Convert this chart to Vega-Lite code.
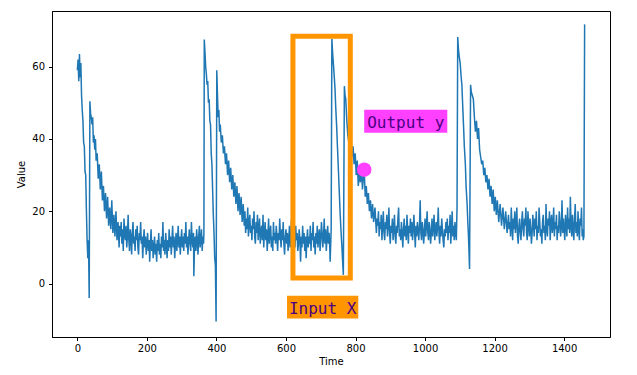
{
  "$schema": "https://vega.github.io/schema/vega-lite/v6.json",
  "width": 558,
  "height": 326,
  "autosize": {"type": "none"},
  "padding": {"left": 52, "top": 11, "right": 27, "bottom": 38},
  "config": {
    "view": {"stroke": "#000000", "strokeWidth": 1},
    "font": "DejaVu Sans",
    "axis": {
      "grid": false,
      "domainColor": "#000000",
      "tickColor": "#000000",
      "tickSize": 3.5,
      "labelFontSize": 10,
      "labelColor": "#000000",
      "titleFontSize": 10,
      "titleFontWeight": "normal",
      "titleColor": "#000000",
      "labelFont": "DejaVu Sans",
      "titleFont": "DejaVu Sans"
    }
  },
  "datasets": {
    "series": [
      {"t":0,"v":59},{"t":2,"v":62},{"t":4,"v":56},{"t":6,"v":63.5},{"t":8,"v":57},{"t":10,"v":61},{"t":12,"v":52},{"t":14,"v":48},{"t":16,"v":45},{"t":18,"v":39},{"t":20,"v":38},{"t":22,"v":31},{"t":24,"v":30},{"t":26,"v":20},{"t":28,"v":12},{"t":30,"v":7},{"t":32,"v":12},{"t":34,"v":-4},{"t":36,"v":50.4},
      {"t":38,"v":47},{"t":40,"v":46},{"t":42,"v":44},{"t":44,"v":46},{"t":46,"v":39},{"t":48,"v":41},{"t":50,"v":37},{"t":52,"v":40},{"t":54,"v":34},{"t":57,"v":36},{"t":60,"v":29},{"t":63,"v":33},{"t":66,"v":26},{"t":69,"v":31},{"t":72,"v":23},{"t":75,"v":27},{"t":78,"v":20},{"t":81,"v":25},{"t":84,"v":18},{"t":87,"v":24},{"t":90,"v":16},{"t":93,"v":21},{"t":96,"v":15},{"t":99,"v":23},{"t":102,"v":14},{"t":105,"v":19},{"t":108,"v":13},{"t":111,"v":20},{"t":114,"v":12},{"t":117,"v":17},
      {"t":120,"v":10},{"t":122,"v":16},{"t":124,"v":13},{"t":126,"v":17},{"t":128,"v":11},{"t":130,"v":15},{"t":132,"v":9},{"t":134,"v":18},{"t":136,"v":14},{"t":138,"v":12},{"t":140,"v":16},{"t":142,"v":10},{"t":144,"v":13},{"t":146,"v":19},{"t":148,"v":12},{"t":150,"v":9},{"t":152,"v":15},{"t":154,"v":13},{"t":156,"v":8},{"t":158,"v":14},{"t":160,"v":17},{"t":162,"v":11},{"t":164,"v":13},{"t":166,"v":9},{"t":168,"v":15},{"t":170,"v":12},{"t":172,"v":16},{"t":174,"v":10},{"t":176,"v":8},{"t":178,"v":14},{"t":180,"v":12},{"t":182,"v":17},{"t":184,"v":11},{"t":186,"v":13},{"t":188,"v":7},{"t":190,"v":12},{"t":192,"v":15},{"t":194,"v":10},{"t":196,"v":13},{"t":198,"v":8},{"t":200,"v":11},{"t":202,"v":14},{"t":204,"v":9},{"t":206,"v":12},{"t":208,"v":6},{"t":210,"v":11},{"t":212,"v":15},{"t":214,"v":9},{"t":216,"v":12},{"t":218,"v":7},{"t":220,"v":10},{"t":222,"v":13},{"t":224,"v":8},{"t":226,"v":11},{"t":228,"v":6},{"t":230,"v":12},{"t":232,"v":9},{"t":234,"v":14},{"t":236,"v":8},{"t":238,"v":11},{"t":240,"v":7},{"t":242,"v":13},{"t":244,"v":10},{"t":246,"v":17},{"t":248,"v":9},{"t":250,"v":12},{"t":252,"v":8},{"t":254,"v":14},{"t":256,"v":11},{"t":258,"v":7},{"t":260,"v":12},{"t":262,"v":9},{"t":264,"v":15},{"t":266,"v":10},{"t":268,"v":13},{"t":270,"v":8},{"t":272,"v":12},{"t":274,"v":16},{"t":276,"v":10},{"t":278,"v":13},{"t":280,"v":7},{"t":282,"v":11},{"t":284,"v":14},{"t":286,"v":9},{"t":288,"v":12},{"t":290,"v":16},{"t":292,"v":10},{"t":294,"v":13},{"t":296,"v":8},{"t":298,"v":12},{"t":300,"v":15},{"t":302,"v":10},{"t":304,"v":13},{"t":306,"v":9},{"t":308,"v":14},{"t":310,"v":11},{"t":312,"v":17},{"t":314,"v":10},{"t":316,"v":13},{"t":318,"v":8},{"t":320,"v":12},{"t":322,"v":15},{"t":324,"v":11},{"t":326,"v":9},{"t":328,"v":17},{"t":330,"v":12},{"t":332,"v":10},{"t":334,"v":14},{"t":335,"v":2},{"t":337,"v":11},{"t":339,"v":13},{"t":341,"v":9},{"t":343,"v":15},{"t":345,"v":12},{"t":347,"v":8},{"t":349,"v":13},{"t":351,"v":16},{"t":353,"v":10},{"t":355,"v":12},{"t":357,"v":15},{"t":359,"v":9},{"t":361,"v":13},{"t":363,"v":11},{"t":364,"v":14},
      {"t":365,"v":67.5},{"t":367,"v":64},{"t":369,"v":60},{"t":371,"v":58},{"t":373,"v":55},{"t":375,"v":56},{"t":377,"v":50},{"t":379,"v":51},{"t":381,"v":45},{"t":383,"v":44},{"t":385,"v":36},{"t":387,"v":33},{"t":389,"v":26},{"t":391,"v":19},{"t":393,"v":14},{"t":395,"v":7},{"t":397,"v":5},{"t":399,"v":-10.5},{"t":401,"v":59},{"t":403,"v":52},{"t":405,"v":46},{"t":407,"v":48},{"t":409,"v":42},{"t":411,"v":44},{"t":414,"v":39},{"t":417,"v":41},{"t":420,"v":36},{"t":423,"v":38},{"t":426,"v":33},{"t":429,"v":36},{"t":432,"v":30},{"t":435,"v":34},{"t":438,"v":28},{"t":441,"v":32},{"t":444,"v":26},{"t":447,"v":30},{"t":450,"v":24},{"t":453,"v":28},{"t":456,"v":22},{"t":459,"v":27},{"t":462,"v":20},{"t":465,"v":25},{"t":468,"v":19},{"t":471,"v":24},{"t":474,"v":17},{"t":477,"v":22},
      {"t":480,"v":16},{"t":482,"v":20},{"t":484,"v":14},{"t":486,"v":18},{"t":488,"v":15},{"t":490,"v":21},{"t":492,"v":13},{"t":494,"v":17},{"t":496,"v":19},{"t":498,"v":14},{"t":500,"v":16},{"t":502,"v":12},{"t":504,"v":18},{"t":506,"v":15},{"t":508,"v":20},{"t":510,"v":13},{"t":512,"v":11},{"t":514,"v":17},{"t":516,"v":14},{"t":518,"v":19},{"t":520,"v":12},{"t":522,"v":15},{"t":524,"v":18},{"t":526,"v":11},{"t":528,"v":14},{"t":530,"v":16},{"t":532,"v":12},{"t":534,"v":19},{"t":536,"v":10},{"t":538,"v":14},{"t":540,"v":17},{"t":542,"v":12},{"t":544,"v":15},{"t":546,"v":9},{"t":548,"v":13},{"t":550,"v":18},{"t":552,"v":11},{"t":554,"v":14},{"t":556,"v":16},{"t":558,"v":10},{"t":560,"v":13},{"t":562,"v":9},{"t":564,"v":17},{"t":566,"v":12},{"t":568,"v":14},{"t":570,"v":11},{"t":572,"v":16},{"t":574,"v":13},{"t":576,"v":9},{"t":578,"v":14},{"t":580,"v":12},{"t":582,"v":18},{"t":584,"v":13},{"t":586,"v":10},{"t":588,"v":15},{"t":590,"v":12},{"t":592,"v":17},{"t":594,"v":11},{"t":596,"v":8},{"t":598,"v":13},{"t":600,"v":15},{"t":602,"v":11},{"t":604,"v":14},{"t":606,"v":9},{"t":608,"v":12},{"t":610,"v":16},{"t":612,"v":10},{"t":614,"v":13},{"t":616,"v":18},{"t":618,"v":12},{"t":620,"v":11},{"t":622,"v":20},{"t":624,"v":13},{"t":626,"v":10},{"t":628,"v":16},{"t":630,"v":12},{"t":632,"v":14},{"t":634,"v":9},{"t":636,"v":11},{"t":638,"v":15},{"t":640,"v":12},{"t":642,"v":6},{"t":644,"v":13},{"t":646,"v":10},{"t":648,"v":16},{"t":650,"v":11},{"t":652,"v":14},{"t":654,"v":9},{"t":656,"v":13},{"t":658,"v":7},{"t":660,"v":12},{"t":662,"v":15},{"t":664,"v":10},{"t":666,"v":13},{"t":668,"v":11},{"t":670,"v":16},{"t":672,"v":9},{"t":674,"v":14},{"t":676,"v":12},{"t":678,"v":17},{"t":680,"v":10},{"t":682,"v":13},{"t":684,"v":8},{"t":686,"v":14},{"t":688,"v":11},{"t":690,"v":16},{"t":692,"v":10},{"t":694,"v":13},{"t":696,"v":15},{"t":698,"v":9},{"t":700,"v":12},{"t":702,"v":17},{"t":704,"v":14},{"t":706,"v":10},{"t":708,"v":13},{"t":710,"v":18},{"t":712,"v":11},{"t":714,"v":15},{"t":716,"v":9},{"t":718,"v":13},{"t":720,"v":16},{"t":722,"v":11},{"t":724,"v":14},{"t":726,"v":10},{"t":727,"v":6},{"t":729,"v":12},{"t":730,"v":15},
      {"t":732,"v":67.7},{"t":734,"v":64},{"t":737,"v":60},{"t":739,"v":57},{"t":741,"v":54},{"t":743,"v":49},{"t":746,"v":43},{"t":748,"v":38},{"t":751,"v":31},{"t":753,"v":26},{"t":756,"v":19},{"t":758,"v":15},{"t":761,"v":10},{"t":763,"v":6},{"t":765,"v":2.4},{"t":768,"v":54.6},{"t":770,"v":52},{"t":772,"v":51},{"t":775,"v":45},{"t":778,"v":41},{"t":781,"v":39},{"t":784,"v":36},{"t":787,"v":39},{"t":790,"v":35},{"t":793,"v":38},{"t":796,"v":33},{"t":799,"v":36},{"t":802,"v":30},{"t":805,"v":34},{"t":808,"v":27},{"t":811,"v":31},{"t":814,"v":28},{"t":817,"v":32},{"t":820,"v":26},{"t":823,"v":30},{"t":825,"v":31.5},{"t":828,"v":24},{"t":831,"v":27},{"t":834,"v":22},{"t":837,"v":25},{"t":840,"v":20},{"t":843,"v":23},{"t":846,"v":18},{"t":849,"v":22},{"t":852,"v":17},{"t":856,"v":21},
      {"t":860,"v":14},{"t":862,"v":18},{"t":864,"v":16},{"t":866,"v":20},{"t":868,"v":13},{"t":870,"v":17},{"t":872,"v":15},{"t":874,"v":19},{"t":876,"v":12},{"t":878,"v":16},{"t":880,"v":20},{"t":882,"v":14},{"t":884,"v":12},{"t":886,"v":17},{"t":888,"v":15},{"t":890,"v":19},{"t":892,"v":13},{"t":894,"v":16},{"t":896,"v":21},{"t":898,"v":14},{"t":900,"v":11},{"t":902,"v":16},{"t":904,"v":14},{"t":906,"v":18},{"t":908,"v":12},{"t":910,"v":15},{"t":912,"v":19},{"t":914,"v":13},{"t":916,"v":11},{"t":918,"v":16},{"t":920,"v":14},{"t":922,"v":18},{"t":924,"v":21},{"t":926,"v":13},{"t":928,"v":15},{"t":930,"v":12},{"t":932,"v":17},{"t":934,"v":14},{"t":936,"v":10},{"t":938,"v":15},{"t":940,"v":18},{"t":942,"v":13},{"t":944,"v":16},{"t":946,"v":12},{"t":948,"v":19},{"t":950,"v":15},{"t":952,"v":11},{"t":954,"v":16},{"t":956,"v":14},{"t":958,"v":18},{"t":960,"v":13},{"t":962,"v":17},{"t":964,"v":12},{"t":966,"v":15},{"t":968,"v":19},{"t":970,"v":14},{"t":972,"v":10},{"t":974,"v":16},{"t":976,"v":13},{"t":978,"v":17},{"t":980,"v":15},{"t":982,"v":12},{"t":984,"v":16},{"t":986,"v":23},{"t":988,"v":14},{"t":990,"v":12},{"t":992,"v":17},{"t":994,"v":15},{"t":996,"v":11},{"t":998,"v":14},{"t":1000,"v":18},{"t":1002,"v":13},{"t":1004,"v":16},{"t":1006,"v":20},{"t":1008,"v":14},{"t":1010,"v":12},{"t":1012,"v":17},{"t":1014,"v":15},{"t":1016,"v":11},{"t":1018,"v":14},{"t":1020,"v":18},{"t":1022,"v":13},{"t":1024,"v":16},{"t":1026,"v":19},{"t":1028,"v":12},{"t":1030,"v":15},{"t":1032,"v":17},{"t":1034,"v":13},{"t":1036,"v":16},{"t":1038,"v":21},{"t":1040,"v":14},{"t":1042,"v":11},{"t":1044,"v":16},{"t":1046,"v":13},{"t":1048,"v":18},{"t":1050,"v":15},{"t":1052,"v":12},{"t":1054,"v":10},{"t":1056,"v":15},{"t":1058,"v":13},{"t":1060,"v":17},{"t":1062,"v":14},{"t":1064,"v":18},{"t":1066,"v":12},{"t":1068,"v":16},{"t":1070,"v":14},{"t":1072,"v":19},{"t":1074,"v":11},{"t":1076,"v":15},{"t":1078,"v":20},{"t":1080,"v":13},{"t":1082,"v":16},{"t":1084,"v":12},{"t":1086,"v":17},{"t":1088,"v":14},{"t":1090,"v":12},{"t":1092,"v":21},
      {"t":1094,"v":68.2},{"t":1096,"v":65},{"t":1098,"v":63},{"t":1101,"v":61},{"t":1104,"v":57},{"t":1106,"v":55},{"t":1108,"v":50},{"t":1111,"v":43},{"t":1113,"v":38},{"t":1116,"v":33},{"t":1118,"v":27},{"t":1121,"v":22},{"t":1123,"v":17},{"t":1125,"v":13},{"t":1128,"v":4},{"t":1131,"v":55},{"t":1133,"v":53},{"t":1136,"v":52},{"t":1139,"v":51},{"t":1142,"v":46},{"t":1145,"v":42},{"t":1148,"v":45},{"t":1151,"v":40},{"t":1154,"v":43},{"t":1157,"v":37},{"t":1160,"v":35},{"t":1163,"v":33},{"t":1166,"v":34},{"t":1169,"v":30},{"t":1172,"v":32},{"t":1175,"v":28},{"t":1178,"v":30},{"t":1181,"v":26},{"t":1184,"v":29},{"t":1187,"v":24},{"t":1190,"v":27},{"t":1193,"v":22},{"t":1196,"v":26},{"t":1199,"v":20},{"t":1202,"v":24},{"t":1205,"v":19},{"t":1208,"v":23},{"t":1212,"v":17},{"t":1216,"v":22},{"t":1220,"v":16},{"t":1224,"v":21},{"t":1228,"v":15},{"t":1232,"v":20},{"t":1236,"v":14},
      {"t":1240,"v":19},{"t":1242,"v":15},{"t":1244,"v":17},{"t":1246,"v":13},{"t":1248,"v":21},{"t":1250,"v":16},{"t":1252,"v":12},{"t":1254,"v":18},{"t":1256,"v":15},{"t":1258,"v":20},{"t":1260,"v":14},{"t":1262,"v":17},{"t":1264,"v":21},{"t":1266,"v":13},{"t":1268,"v":11},{"t":1270,"v":16},{"t":1272,"v":18},{"t":1274,"v":14},{"t":1276,"v":12},{"t":1278,"v":17},{"t":1280,"v":20},{"t":1282,"v":15},{"t":1284,"v":13},{"t":1286,"v":18},{"t":1288,"v":16},{"t":1290,"v":21},{"t":1292,"v":14},{"t":1294,"v":12},{"t":1296,"v":20},{"t":1298,"v":16},{"t":1300,"v":13},{"t":1302,"v":18},{"t":1304,"v":15},{"t":1306,"v":11},{"t":1308,"v":14},{"t":1310,"v":19},{"t":1312,"v":16},{"t":1314,"v":13},{"t":1316,"v":18},{"t":1318,"v":15},{"t":1320,"v":20},{"t":1322,"v":12},{"t":1324,"v":16},{"t":1326,"v":14},{"t":1328,"v":21},{"t":1330,"v":17},{"t":1332,"v":13},{"t":1334,"v":15},{"t":1336,"v":11},{"t":1338,"v":17},{"t":1340,"v":19},{"t":1342,"v":14},{"t":1344,"v":16},{"t":1346,"v":12},{"t":1348,"v":22},{"t":1350,"v":15},{"t":1352,"v":13},{"t":1354,"v":18},{"t":1356,"v":16},{"t":1358,"v":20},{"t":1360,"v":12},{"t":1362,"v":17},{"t":1364,"v":19},{"t":1366,"v":14},{"t":1368,"v":16},{"t":1370,"v":21},{"t":1372,"v":13},{"t":1374,"v":17},{"t":1376,"v":15},{"t":1378,"v":19},{"t":1380,"v":12},{"t":1382,"v":16},{"t":1384,"v":14},{"t":1386,"v":20},{"t":1388,"v":17},{"t":1390,"v":13},{"t":1392,"v":16},{"t":1394,"v":23},{"t":1396,"v":14},{"t":1398,"v":18},{"t":1400,"v":15},{"t":1402,"v":12},{"t":1404,"v":19},{"t":1406,"v":16},{"t":1408,"v":13},{"t":1410,"v":21},{"t":1412,"v":15},{"t":1414,"v":18},{"t":1416,"v":14},{"t":1418,"v":24},{"t":1420,"v":16},{"t":1422,"v":13},{"t":1424,"v":19},{"t":1426,"v":15},{"t":1428,"v":12},{"t":1430,"v":18},{"t":1432,"v":22},{"t":1434,"v":14},{"t":1436,"v":17},{"t":1438,"v":13},{"t":1440,"v":20},{"t":1442,"v":15},{"t":1444,"v":12},{"t":1446,"v":18},{"t":1448,"v":16},{"t":1450,"v":21},{"t":1452,"v":13},{"t":1454,"v":15},{"t":1455,"v":12},{"t":1457,"v":13},{"t":1459,"v":71.7}
    ],
    "window": [{"x0":620,"x1":785,"y0":1.5,"y1":68.4}],
    "target": [{"t":825,"v":31.5}],
    "labels": [
      {"label":"Output y","x0":825,"x1":1064,"y0":41.7,"y1":48.1,"tx":944.5,"ty":43.1,"kind":"out"},
      {"label":"Input X","x0":603,"x1":808,"y0":-9.7,"y1":-3.4,"tx":705.5,"ty":-8.4,"kind":"in"}
    ]
  },
  "layer": [
    {
      "data": {"name": "series"},
      "mark": {"type": "line", "color": "#1f77b4", "strokeWidth": 1.5, "clip": true},
      "encoding": {
        "x": {"field": "t", "type": "quantitative", "title": "Time",
              "scale": {"domain": [-73, 1532], "nice": false, "zero": false},
              "axis": {"values": [0, 200, 400, 600, 800, 1000, 1200, 1400], "format": "d", "labelPadding": 3, "titlePadding": 3}},
        "y": {"field": "v", "type": "quantitative", "title": "Value",
              "scale": {"domain": [-14.8, 75.4], "nice": false, "zero": false},
              "axis": {"values": [0, 20, 40, 60], "format": "d", "labelPadding": 4, "titlePadding": 5}}
      }
    },
    {
      "data": {"name": "window"},
      "mark": {"type": "rect", "fill": "#ff9500", "fillOpacity": 0, "stroke": "#ff9500", "strokeWidth": 5},
      "encoding": {
        "x": {"field": "x0", "type": "quantitative"},
        "x2": {"field": "x1"},
        "y": {"field": "y0", "type": "quantitative"},
        "y2": {"field": "y1"}
      }
    },
    {
      "data": {"name": "target"},
      "mark": {"type": "point", "filled": true, "color": "#ff40ff", "opacity": 1, "size": 210},
      "encoding": {
        "x": {"field": "t", "type": "quantitative"},
        "y": {"field": "v", "type": "quantitative"}
      }
    },
    {
      "data": {"name": "labels"},
      "mark": {"type": "rect", "strokeWidth": 0},
      "encoding": {
        "x": {"field": "x0", "type": "quantitative"},
        "x2": {"field": "x1"},
        "y": {"field": "y0", "type": "quantitative"},
        "y2": {"field": "y1"},
        "color": {"field": "kind", "type": "nominal", "scale": {"domain": ["out", "in"], "range": ["#ff40ff", "#ff9500"]}, "legend": null}
      }
    },
    {
      "data": {"name": "labels"},
      "mark": {"type": "text", "font": "DejaVu Sans Mono", "fontSize": 16, "color": "#4b0082", "align": "center", "baseline": "alphabetic"},
      "encoding": {
        "x": {"field": "tx", "type": "quantitative"},
        "y": {"field": "ty", "type": "quantitative"},
        "text": {"field": "label"}
      }
    }
  ]
}
